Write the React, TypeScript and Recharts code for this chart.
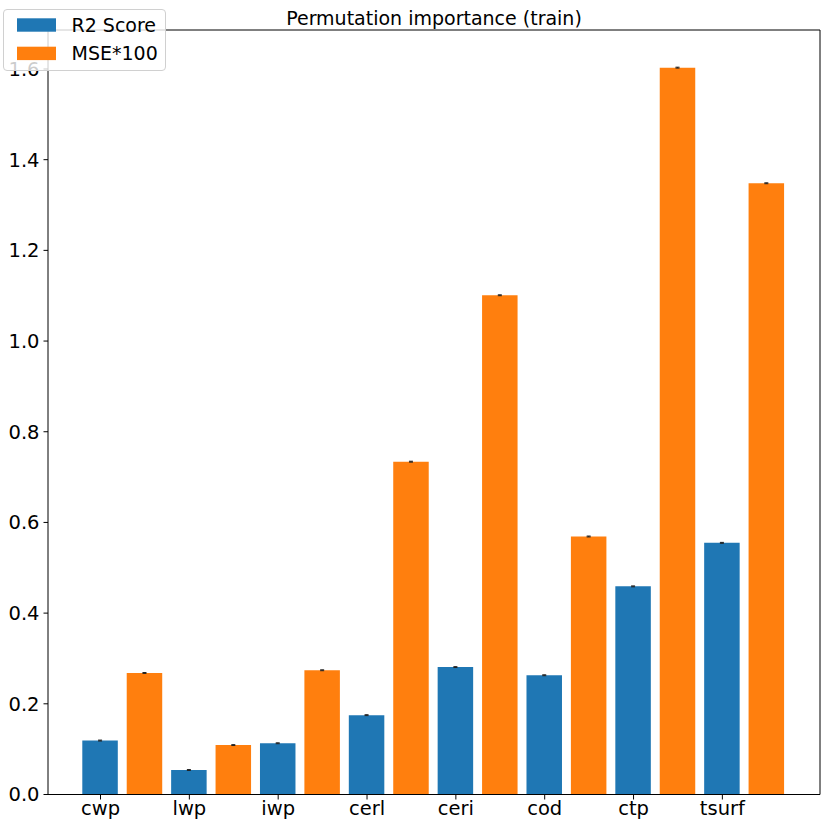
import { Bar, BarChart, Cell, ErrorBar, XAxis, YAxis } from "recharts";

const categories = ["cwp", "lwp", "iwp", "cerl", "ceri", "cod", "ctp", "tsurf"];
const r2Score = [0.119, 0.054, 0.113, 0.175, 0.281, 0.263, 0.459, 0.555];
const mse100 = [0.268, 0.109, 0.274, 0.734, 1.101, 0.569, 1.603, 1.348];
const r2Err = [0.001, 0.001, 0.001, 0.001, 0.001, 0.001, 0.001, 0.001];
const mseErr = [0.001, 0.001, 0.001, 0.001, 0.001, 0.001, 0.001, 0.001];
const yTicks = [0, 0.2, 0.4, 0.6, 0.8, 1.0, 1.2, 1.4, 1.6];
const Y_MAX = 1.686;

const BLUE = "#1f77b4";
const ORANGE = "#ff7f0e";
const FONT = "DejaVu Sans";

// one slot per bar: R2 at the tick, MSE half a step to the right
const rows = categories.flatMap((c, i) => [
  { key: c, value: r2Score[i], err: r2Err[i], color: BLUE },
  { key: c + " MSE", value: mse100[i], err: mseErr[i], color: ORANGE },
]);

export default function App() {
  return (
    <div style={{ position: "absolute", left: 0, top: 0, width: 830, height: 830, background: "#fff" }}>
      <BarChart
        width={830}
        height={830}
        data={rows}
        margin={{ top: 29, right: 9, bottom: 5.5, left: 0 }}
      >
        <XAxis
          dataKey="key"
          ticks={categories}
          interval={0}
          padding={{ left: 30.3, right: 31 }}
          height={30}
          tickSize={5}
          tickMargin={2}
          axisLine={{ stroke: "#000" }}
          tickLine={{ stroke: "#000" }}
          tick={{ fill: "#000", fontSize: 19.5, fontFamily: FONT }}
        />
        {/* top and right spines */}
        <XAxis xAxisId="top" orientation="top" dataKey="key" height={1} ticks={[]} tick={false} tickLine={false} axisLine={{ stroke: "#000" }} />
        <YAxis yAxisId="right" orientation="right" width={1} domain={[0, Y_MAX]} ticks={[]} tick={false} tickLine={false} axisLine={{ stroke: "#000" }} />
        <YAxis
          type="number"
          domain={[0, Y_MAX]}
          ticks={yTicks}
          width={48}
          tickSize={4.5}
          tickMargin={4}
          tickFormatter={(v: number) => v.toFixed(1)}
          axisLine={{ stroke: "#000" }}
          tickLine={{ stroke: "#000" }}
          tick={{ fill: "#000", fontSize: 19.5, fontFamily: FONT }}
        />
        <Bar dataKey="value" barSize={35.5} isAnimationActive={false}>
          {rows.map((r, i) => (
            <Cell key={i} fill={r.color} />
          ))}
          <ErrorBar dataKey="err" width={2} stroke="#222" strokeWidth={1} direction="y" />
        </Bar>
      </BarChart>

      <svg width={830} height={30} style={{ position: "absolute", left: 0, top: 0 }}>
        <text x={434} y={24.5} textAnchor="middle" fontSize={19} fontFamily={FONT} fill="#000">
          Permutation importance (train)
        </text>
      </svg>

      <svg width={170} height={75} style={{ position: "absolute", left: 0, top: 0 }}>
        <rect x={3.5} y={9.5} width={162} height={61} rx={3.5} fill="rgba(255,255,255,0.8)" stroke="#d0d0d0" />
        <rect x={17} y={18.3} width={39} height={13.4} fill={BLUE} />
        <rect x={17} y={46.7} width={39} height={13.4} fill={ORANGE} />
        <text x={71.5} y={31.7} fontSize={19} fontFamily={FONT} fill="#000">R2 Score</text>
        <text x={71.5} y={60} fontSize={19} fontFamily={FONT} fill="#000">MSE*100</text>
      </svg>
    </div>
  );
}
